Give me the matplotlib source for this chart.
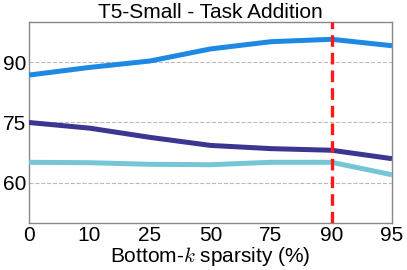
import matplotlib
matplotlib.use("Agg")
import matplotlib.pyplot as plt

sparsity = ["0", "10", "25", "50", "75", "90", "95"]
series_top = [86.8, 88.7, 90.3, 93.3, 95.1, 95.7, 94.1]
series_mid = [75.0, 73.6, 71.3, 69.3, 68.5, 68.1, 66.0]
series_low = [65.1, 65.0, 64.6, 64.5, 65.1, 65.1, 62.0]
yticks = [60, 75, 90]
marker_idx = 5

plt.rcParams['font.family'] = ['Liberation Sans', 'DejaVu Sans']
plt.rcParams['mathtext.fontset'] = 'cm'

fig = plt.figure(figsize=(4.07, 2.70), dpi=100)
ax = fig.add_axes([29/407, 1-223/270, (392-29)/407, (223-22)/270])
x = list(range(len(sparsity)))
ax.plot(x, series_top, color='#1e88e5', lw=3.6, solid_capstyle='butt', zorder=3)
ax.plot(x, series_mid, color='#3b3691', lw=3.6, solid_capstyle='butt', zorder=3)
ax.plot(x, series_low, color='#74c6d7', lw=3.6, solid_capstyle='butt', zorder=3)
ax.axvline(marker_idx, color='#ff1a1a', lw=2.4, ls=(0, (3.5, 1.8)), zorder=4)
ax.set_xlim(0, len(sparsity) - 1)
ax.set_ylim(50, 100)
ax.set_xticks(x)
ax.set_xticklabels(sparsity)
ax.set_yticks(yticks)
ax.tick_params(length=0, labelsize=15, pad=2)
ax.grid(axis='y', ls='--', color='#bbbbbb', lw=0.8)
for s in ax.spines.values():
    s.set_color('#888888')
    s.set_linewidth(1.0)
ax.set_title("T5-Small - Task Addition", fontsize=15, pad=2)
ax.set_xlabel("Bottom-$k$ sparsity (%)", fontsize=15, labelpad=0)
fig.savefig("out.png", dpi=100)
